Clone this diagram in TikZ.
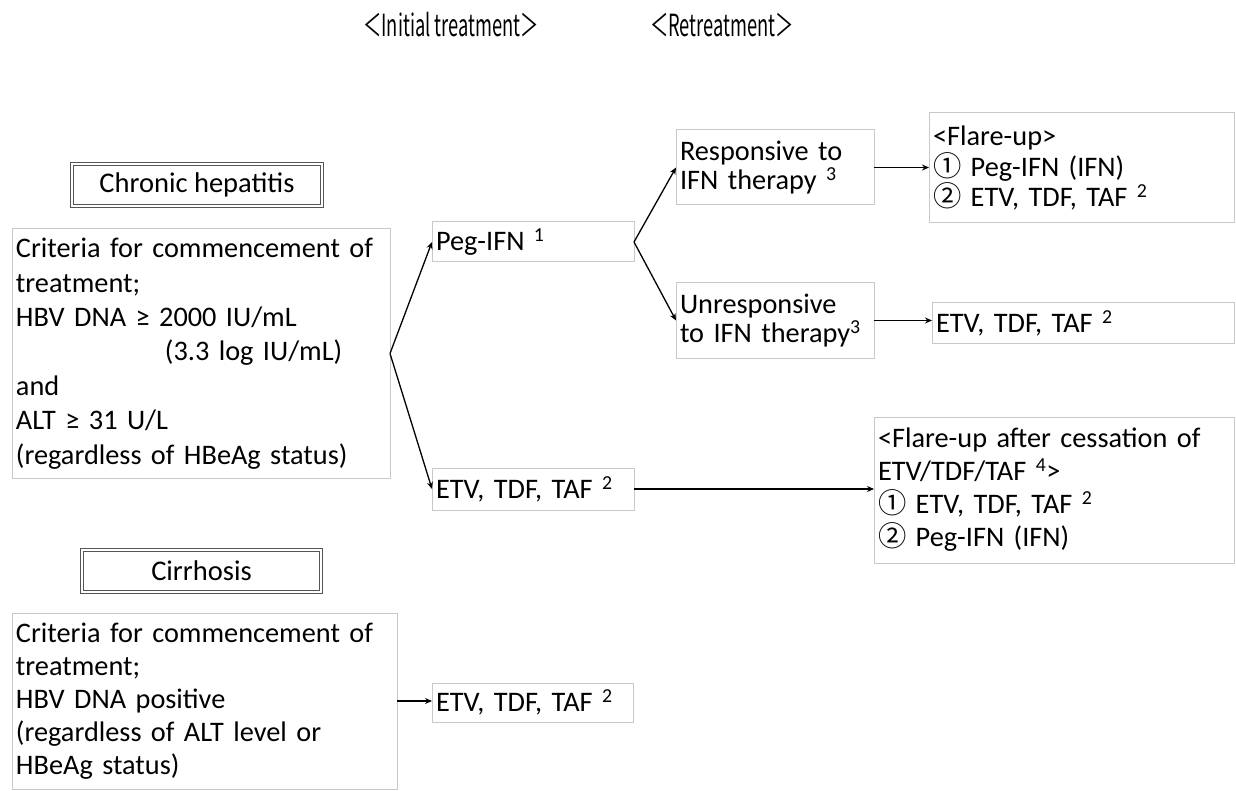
\documentclass[tikz,border=0pt]{standalone}
\usepackage{fontspec}
\setmainfont{Carlito}
\newfontfamily\cjk{Noto Sans CJK JP}
\newfontfamily\hdrfont[FakeStretch=0.6]{Noto Sans CJK JP}
\usetikzlibrary{arrows.meta}
\definecolor{boxgray}{RGB}{200,200,200}
\definecolor{dblgray}{RGB}{85,85,85}
\newcommand{\spx}[1]{\textsuperscript{#1}}
\newcommand{\cnum}[1]{{\cjk #1}}
\setlength{\lineskiplimit}{-20pt}
\begin{document}
\begin{tikzpicture}[x=1pt,y=-1pt,
  every node/.style={inner sep=0pt, outer sep=0pt},
  box/.style={draw=boxgray, line width=1pt, anchor=north west, align=left,
    inner xsep=4pt, font=\fontsize{28.3}{34.4}\selectfont},
  dbox/.style={draw=dblgray, line width=0.9pt, double=white, double distance=1.6pt,
    anchor=north west, align=center, font=\fontsize{28.5}{34}\selectfont},
  hdr/.style={font=\hdrfont\fontsize{30.5}{32}\selectfont},
  arr/.style={line width=1.3pt, -{Stealth[length=7pt,width=6pt]}}]
\useasboundingbox (0,0) rectangle (1236,791);
\fill[white] (0,0) rectangle (1236,791);

% headers
\node[hdr] (h1) at (451,25) {＜Initial treatment＞};
\node[hdr] (h2) at (722,25) {＜Retreatment＞};

% category boxes
\node[dbox, minimum width=250pt, minimum height=42pt] (chronic) at (72,164) {Chronic hepatitis};
\node[dbox, minimum width=239pt, minimum height=42pt] (cirr) at (82,550) {Cirrhosis};

% criteria boxes
\node[box, minimum width=378pt, minimum height=249pt, text width=370pt] (crit1) at (12,229)
  {Criteria for commencement of\\ treatment;\\ HBV DNA ≥ 2000 IU/mL\\ \hspace*{149pt}(3.3 log IU/mL)\\ and\\ ALT ≥ 31 U/L\\ (regardless of HBeAg status)};
\node[box, minimum width=385pt, minimum height=176pt, text width=377pt, font=\fontsize{28.3}{33}\selectfont] (crit2) at (12,613)
  {Criteria for commencement of\\ treatment;\\ HBV DNA positive\\ (regardless of ALT level or\\ HBeAg status)};

% initial treatment
\node[box, minimum width=202pt, minimum height=40pt, text width=194pt] (peg) at (432,222) {Peg-IFN \spx{1}};
\node[box, minimum width=202pt, minimum height=42pt, text width=194pt] (etv1) at (432,468) {ETV, TDF, TAF \spx{2}};
\node[box, minimum width=201pt, minimum height=39pt, text width=193pt] (etv2) at (432,683) {ETV, TDF, TAF \spx{2}};

% response
\node[box, minimum width=198pt, minimum height=75pt, text width=190pt, font=\fontsize{28.3}{29.5}\selectfont] (resp) at (676,130)
  {Responsive to\\ IFN therapy \spx{3}};
\node[box, minimum width=198pt, minimum height=75pt, text width=190pt, font=\fontsize{28.3}{29.5}\selectfont] (unresp) at (676,283)
  {Unresponsive\\ to IFN therapy\spx{3}};

% retreatment
\node[box, minimum width=305pt, minimum height=110pt, text width=297pt, font=\fontsize{28.3}{30.5}\selectfont] (flare) at (929,113)
  {<Flare-up>\\ \cnum{①} Peg-IFN (IFN)\\ \cnum{②} ETV, TDF, TAF \spx{2}};
\node[box, minimum width=302pt, minimum height=40pt, text width=294pt] (etvr) at (932,303) {ETV, TDF, TAF \spx{2}};
\node[box, minimum width=360pt, minimum height=146pt, text width=352pt, font=\fontsize{28.3}{33}\selectfont] (after) at (874,417)
  {<Flare-up after cessation of\\ ETV/TDF/TAF \spx{4}>\\ \cnum{①} ETV, TDF, TAF \spx{2}\\ \cnum{②} Peg-IFN (IFN)};

% connectors
\draw[arr] (crit1.east) -- (peg.west);
\draw[arr] (crit1.east) -- (etv1.west);
\draw[arr] (peg.east) -- (resp.west);
\draw[arr] (peg.east) -- (unresp.west);
\draw[arr] (resp.east) -- (resp.east -| flare.west);
\draw[arr] (unresp.east) -- (unresp.east -| etvr.west);
\draw[arr] (etv1.east) -- (etv1.east -| after.west);
\draw[arr] (crit2.east) -- (crit2.east -| etv2.west);
\end{tikzpicture}
\end{document}
